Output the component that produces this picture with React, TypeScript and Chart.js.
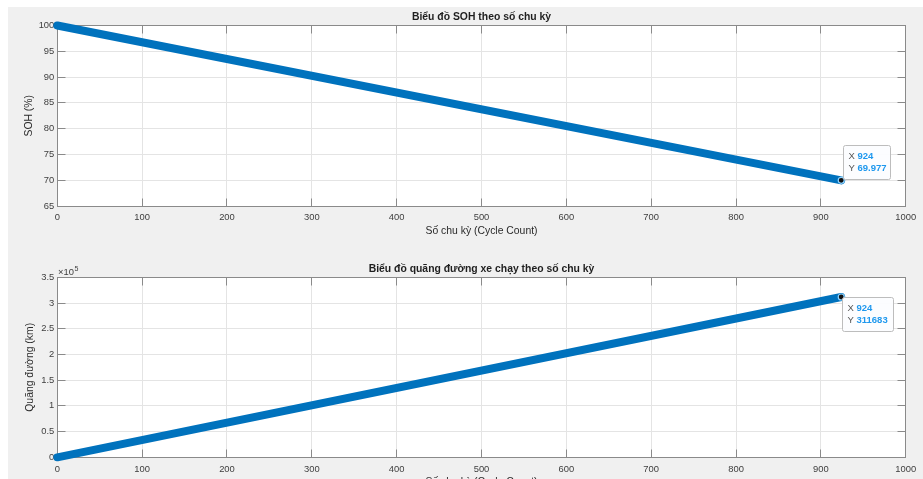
import React, { useEffect, useRef } from 'react';
import { Chart, registerables } from 'chart.js';

Chart.register(...registerables);

// ---- data ----
const sohCycles = [0, 924];
const sohValues = [100, 69.977];
const distCycles = [0, 924];
const distValues = [0, 311683];

const xTicks = [0, 100, 200, 300, 400, 500, 600, 700, 800, 900, 1000];
const sohTicks = [65, 70, 75, 80, 85, 90, 95, 100];
const distTicks = [0, 50000, 100000, 150000, 200000, 250000, 300000, 350000];

const title1 = 'Biểu đồ SOH theo số chu kỳ';
const title2 = 'Biểu đồ quãng đường xe chạy theo số chu kỳ';
const xTitle = 'Số chu kỳ (Cycle Count)';
const yTitle1 = 'SOH (%)';
const yTitle2 = 'Quãng đường (km)';

// ---- style ----
const FONT = "'Liberation Sans', Arial, Helvetica, sans-serif";
const LINE = '#0072BD';
const AXIS = '#8a8a8a';
const GRID = '#e4e4e4';
const TICK_TXT = '#404040';
const TICK_FS = 9.4;
const LABEL_FS = 10.4;
const TICK_LEN = 8;

const align = (p: number) => Math.round(p - 0.5) + 0.5;

type Cfg = {
  xs: number[];
  ys: number[];
  yTicks: number[];
  yMin: number;
  yMax: number;
  yFmt: (v: number) => string;
  yTitle: string;
  title: string;
  titleY: number;
  top: number;
  xH: number;
  xTitlePad: number;
  yTitlePad: number;
  tipDX: number;
  tipDY: number;
  tipW: number;
  exponent?: { x: number; y: number; base: string; exp: string };
};

function makePlugin(c: Cfg) {
  return {
    id: 'matlabAxes',
    beforeDraw(chart: any) {
      const { ctx, chartArea: a } = chart;
      ctx.save();
      ctx.fillStyle = '#ffffff';
      ctx.fillRect(a.left, a.top, a.right - a.left, a.bottom - a.top);
      ctx.restore();
    },
    beforeDatasetsDraw(chart: any) {
      const { ctx, chartArea: a, scales } = chart;
      const L = align(a.left), R = align(a.right), T = align(a.top), B = align(a.bottom);
      ctx.save();
      ctx.strokeStyle = AXIS;
      ctx.lineWidth = 1;
      ctx.beginPath();
      scales.x.ticks.forEach((t: any) => {
        const px = align(scales.x.getPixelForValue(t.value));
        ctx.moveTo(px, B);
        ctx.lineTo(px, B - TICK_LEN);
        ctx.moveTo(px, T);
        ctx.lineTo(px, T + TICK_LEN);
      });
      scales.y.ticks.forEach((t: any) => {
        const py = align(scales.y.getPixelForValue(t.value));
        ctx.moveTo(L, py);
        ctx.lineTo(L + TICK_LEN, py);
        ctx.moveTo(R, py);
        ctx.lineTo(R - TICK_LEN, py);
      });
      ctx.stroke();
      ctx.strokeRect(L, T, R - L, B - T);
      ctx.restore();
    },
    afterDatasetsDraw(chart: any) {
      const { ctx } = chart;
      const meta = chart.getDatasetMeta(0);
      const last = meta.data.length - 1;
      const pt = meta.data[last];
      const px = pt.x, py = pt.y;
      ctx.save();
      // marker
      ctx.beginPath();
      ctx.arc(px, py, 3, 0, Math.PI * 2);
      ctx.fillStyle = '#111';
      ctx.fill();
      ctx.lineWidth = 1.2;
      ctx.strokeStyle = '#8fd3ff';
      ctx.stroke();
      // box
      const bx = Math.round(px + c.tipDX) + 0.5;
      const by = Math.round(py + c.tipDY) + 0.5;
      const bw = c.tipW, bh = 34;
      ctx.beginPath();
      if ((ctx as any).roundRect) (ctx as any).roundRect(bx, by, bw, bh, 2);
      else ctx.rect(bx, by, bw, bh);
      ctx.fillStyle = 'rgba(252,253,255,0.96)';
      ctx.fill();
      ctx.strokeStyle = '#bdbdbd';
      ctx.lineWidth = 1;
      ctx.stroke();
      ctx.textBaseline = 'middle';
      ctx.textAlign = 'left';
      ctx.font = `9.5px ${FONT}`;
      ctx.fillStyle = '#555';
      ctx.fillText('X', bx + 5, by + 11);
      ctx.fillText('Y', bx + 5, by + 23);
      ctx.font = `bold 9.5px ${FONT}`;
      ctx.fillStyle = '#1e98ee';
      ctx.fillText(String(c.xs[last]), bx + 14, by + 11);
      ctx.fillText(String(c.ys[last]), bx + 14, by + 23);
      ctx.restore();
    },
    afterDraw(chart: any) {
      const { ctx, chartArea: a } = chart;
      ctx.save();
      ctx.fillStyle = '#1f1f1f';
      ctx.font = `bold ${LABEL_FS}px ${FONT}`;
      ctx.textAlign = 'center';
      ctx.textBaseline = 'middle';
      ctx.fillText(c.title, (a.left + a.right) / 2, c.titleY);
      if (c.exponent) {
        const e = c.exponent;
        ctx.fillStyle = TICK_TXT;
        ctx.textAlign = 'left';
        ctx.textBaseline = 'alphabetic';
        ctx.font = `${TICK_FS}px ${FONT}`;
        ctx.fillText(e.base, e.x, e.y);
        const w = ctx.measureText(e.base).width;
        ctx.font = `${TICK_FS * 0.75}px ${FONT}`;
        ctx.fillText(e.exp, e.x + w + 0.5, e.y - 4.5);
      }
      ctx.restore();
    },
  };
}

function makeConfig(c: Cfg): any {
  return {
    type: 'line',
    data: {
      datasets: [
        {
          data: c.xs.map((x, i) => ({ x, y: c.ys[i] })),
          borderColor: LINE,
          backgroundColor: LINE,
          borderWidth: 8,
          borderCapStyle: 'round',
          borderJoinStyle: 'round',
          pointRadius: 0,
          tension: 0,
          clip: false,
          fill: false,
        },
      ],
    },
    options: {
      responsive: false,
      maintainAspectRatio: false,
      animation: false,
      events: [],
      layout: { padding: { top: c.top, left: 0, right: 17.3, bottom: 0 } },
      plugins: {
        legend: { display: false },
        tooltip: { enabled: false },
        title: { display: false },
      },
      scales: {
        x: {
          type: 'linear',
          min: 0,
          max: 1000,
          afterBuildTicks: (s: any) => {
            s.ticks = xTicks.map((v) => ({ value: v }));
          },
          afterFit: (s: any) => {
            s.height = c.xH;
          },
          grid: { color: GRID, drawTicks: false, lineWidth: 1 },
          border: { display: false },
          ticks: {
            autoSkip: false,
            maxRotation: 0,
            padding: 6,
            color: TICK_TXT,
            font: { family: FONT, size: TICK_FS },
            callback: (v: any) => String(v),
          },
          title: {
            display: true,
            text: xTitle,
            color: '#2a2a2a',
            font: { family: FONT, size: LABEL_FS },
            padding: { top: 0, bottom: c.xTitlePad },
          },
        },
        y: {
          type: 'linear',
          min: c.yMin,
          max: c.yMax,
          afterBuildTicks: (s: any) => {
            s.ticks = c.yTicks.map((v) => ({ value: v }));
          },
          afterFit: (s: any) => {
            s.width = 49.3;
          },
          grid: { color: GRID, drawTicks: false, lineWidth: 1 },
          border: { display: false },
          ticks: {
            autoSkip: false,
            padding: 3,
            color: TICK_TXT,
            font: { family: FONT, size: TICK_FS },
            callback: (v: any) => c.yFmt(Number(v)),
          },
          title: {
            display: true,
            text: c.yTitle,
            color: '#2a2a2a',
            font: { family: FONT, size: LABEL_FS },
            padding: { top: c.yTitlePad, bottom: 0 },
          },
        },
      },
    },
    plugins: [makePlugin(c)],
  };
}

const cfg1: Cfg = {
  xs: sohCycles,
  ys: sohValues,
  yTicks: sohTicks,
  yMin: 65,
  yMax: 100,
  yFmt: (v) => String(v),
  yTitle: yTitle1,
  title: title1,
  titleY: 10.5,
  top: 18.5,
  xH: 41,
  xTitlePad: 10,
  yTitlePad: 15,
  tipDX: 1.5,
  tipDY: -35,
  tipW: 47,
};

const cfg2: Cfg = {
  xs: distCycles,
  ys: distValues,
  yTicks: distTicks,
  yMin: 0,
  yMax: 350000,
  yFmt: (v) => String(v / 100000),
  yTitle: yTitle2,
  title: title2,
  titleY: 22,
  top: 30.3,
  xH: 49.7,
  xTitlePad: 19,
  yTitlePad: 16,
  tipDX: 0.5,
  tipDY: 0,
  tipW: 51,
  exponent: { x: 50, y: 28, base: '×10', exp: '5' },
};

export default function App() {
  const ref1 = useRef<HTMLCanvasElement>(null);
  const ref2 = useRef<HTMLCanvasElement>(null);
  useEffect(() => {
    const c1 = new Chart(ref1.current as HTMLCanvasElement, makeConfig(cfg1));
    const c2 = new Chart(ref2.current as HTMLCanvasElement, makeConfig(cfg2));
    return () => {
      c1.destroy();
      c2.destroy();
    };
  }, []);
  return (
    <div
      style={{
        position: 'fixed',
        left: 8,
        top: 7,
        width: 915,
        height: 472,
        background: '#f0f0f0',
        overflow: 'hidden',
      }}
    >
      <canvas ref={ref1} width={915} height={240} style={{ position: 'absolute', left: 0, top: 0 }} />
      <canvas ref={ref2} width={915} height={260} style={{ position: 'absolute', left: 0, top: 240 }} />
    </div>
  );
}
